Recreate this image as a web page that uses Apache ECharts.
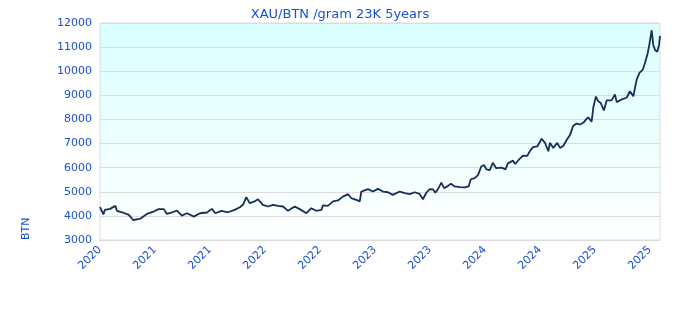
<!DOCTYPE html>
<html>
<head>
<meta charset="utf-8">
<script src="https://cdn.jsdelivr.net/npm/echarts@6/dist/echarts.min.js"></script>
<style>html,body{margin:0;padding:0;background:#fff}#c{width:680px;height:320px}</style>
</head>
<body>
<div id="c"></div>
<script>
var titleText = 'XAU/BTN /gram 23K 5years';
var unitLabel = 'BTN';
var startDate = '2020-11-15';
var endDate = '2025-11-15';
var yTicks = [3000, 4000, 5000, 6000, 7000, 8000, 9000, 10000, 11000, 12000];

var dates = [
'2020-11-15','2020-11-26','2020-12-01','2020-12-18','2021-01-04','2021-01-09','2021-01-26','2021-02-17','2021-03-03','2021-03-25',
'2021-04-17','2021-05-09','2021-05-25','2021-06-11','2021-06-21','2021-07-08','2021-07-24','2021-08-09','2021-08-26','2021-09-17',
'2021-10-07','2021-10-30','2021-11-15','2021-11-26','2021-12-16','2022-01-06','2022-01-28','2022-02-14','2022-02-24','2022-03-07',
'2022-03-18','2022-04-03','2022-04-14','2022-04-30','2022-05-17','2022-06-02','2022-06-18','2022-07-05','2022-07-21','2022-08-12',
'2022-08-28','2022-09-19','2022-10-05','2022-10-21','2022-11-07','2022-11-12','2022-11-28','2022-12-15','2022-12-31','2023-01-16',
'2023-02-02','2023-02-12','2023-03-01','2023-03-12','2023-03-17','2023-04-08','2023-04-24','2023-05-10','2023-05-27','2023-06-12',
'2023-06-28','2023-07-20','2023-08-06','2023-08-22','2023-09-07','2023-09-23','2023-10-04','2023-10-15','2023-10-26','2023-11-06',
'2023-11-13','2023-11-22','2023-12-03','2023-12-12','2023-12-25','2024-01-03','2024-01-16','2024-02-01','2024-02-17','2024-02-22',
'2024-03-01','2024-03-08','2024-03-21','2024-04-01','2024-04-11','2024-04-20','2024-04-28','2024-05-09','2024-05-19','2024-05-30',
'2024-06-16','2024-06-29','2024-07-07','2024-07-24','2024-07-31','2024-08-11','2024-08-25','2024-09-08','2024-09-16','2024-09-27',
'2024-10-11','2024-10-25','2024-11-05','2024-11-16','2024-11-21','2024-12-02','2024-12-15','2024-12-24','2025-01-04','2025-01-15',
'2025-01-26','2025-02-05','2025-02-16','2025-02-27','2025-03-10','2025-03-19','2025-03-26','2025-04-06','2025-04-12','2025-04-20',
'2025-04-28','2025-05-06','2025-05-16','2025-05-25','2025-06-10','2025-06-21','2025-06-27','2025-07-13','2025-07-29','2025-08-09',
'2025-08-20','2025-08-31','2025-09-09','2025-09-20','2025-09-27','2025-10-06','2025-10-11','2025-10-19','2025-10-24','2025-10-30',
'2025-11-06','2025-11-12','2025-11-15'
];
var prices = [
4360,4060,4250,4290,4415,4210,4150,4040,3830,3875,
4080,4180,4280,4280,4080,4150,4220,4010,4110,3970,
4110,4140,4290,4110,4210,4150,4250,4360,4460,4780,
4530,4600,4690,4460,4390,4460,4415,4390,4210,4390,
4280,4110,4320,4210,4250,4440,4415,4600,4640,4800,
4900,4740,4665,4600,5010,5110,5010,5120,5010,4980,
4870,5010,4940,4900,4980,4910,4690,4960,5110,5100,
4960,5110,5380,5150,5245,5330,5220,5190,5180,5110,
5220,5520,5570,5700,6050,6110,5930,5900,6200,5980,
6000,5930,6180,6290,6150,6320,6500,6490,6670,6850,
6880,7200,7030,6680,7030,6820,7030,6820,6910,7160,
7370,7740,7830,7790,7860,8000,8090,7910,8530,8950,
8750,8680,8370,8790,8790,9040,8720,8830,8900,9170,
8960,9650,9930,10070,10340,10750,11090,11700,11090,10880,
10810,11090,11460
];

var DAY = 86400000;
var t0 = Date.parse(startDate);
var totalDays = (Date.parse(endDate) - t0) / DAY;
var seriesData = dates.map(function (d, i) { return [(Date.parse(d) - t0) / DAY, prices[i]]; });

var blue = '#1c50d4';
var chart = echarts.init(document.getElementById('c'), null, {renderer: 'canvas'});
chart.setOption({
  animation: false,
  title: {
    text: titleText, left: 'center', top: 3,
    textStyle: {color: blue, fontSize: 13, fontWeight: 'normal', fontFamily: 'DejaVu Sans'}
  },
  grid: {
    left: 100, right: 20, top: 23, bottom: 80, show: true, borderColor: '#dcdcdc', borderWidth: 1,
    backgroundColor: new echarts.graphic.LinearGradient(0, 0, 0, 1, [
      {offset: 0, color: '#dbffff'}, {offset: 1, color: '#ffffff'}
    ])
  },
  xAxis: {
    type: 'value', min: 0, max: totalDays, interval: totalDays * 55 / 560,
    axisLine: {show: true, lineStyle: {color: '#dcdcdc'}},
    axisTick: {show: false},
    splitLine: {show: false},
    axisLabel: {
      rotate: 45, color: blue, fontSize: 11, fontFamily: 'DejaVu Sans', showMaxLabel: false,
      formatter: function (v) { return String(new Date(t0 + v * DAY).getUTCFullYear()); }
    }
  },
  yAxis: {
    type: 'value', min: yTicks[0], max: yTicks[yTicks.length - 1], interval: yTicks[1] - yTicks[0],
    axisLine: {show: false}, axisTick: {show: false},
    splitLine: {lineStyle: {color: '#dcdcdc'}},
    axisLabel: {color: blue, fontSize: 11, fontFamily: 'DejaVu Sans', margin: 8,
      formatter: function (v) { return String(Math.round(v)); }}
  },
  graphic: [{
    type: 'text', x: 21, y: 240, rotation: Math.PI / 2,
    style: {text: unitLabel, fill: blue, fontSize: 11, fontFamily: 'DejaVu Sans'}
  }],
  series: [{
    type: 'line', data: seriesData, showSymbol: false, symbol: 'none',
    lineStyle: {color: '#172f57', width: 1.8}
  }]
});
</script>
</body>
</html>
